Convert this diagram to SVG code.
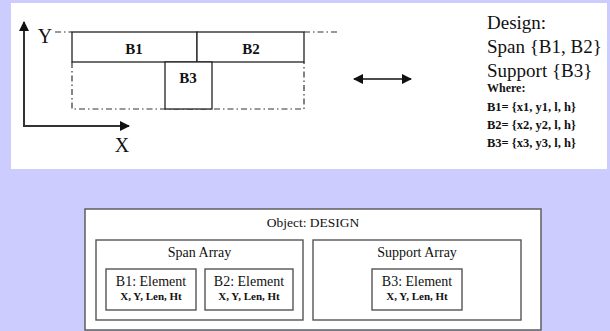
<svg xmlns="http://www.w3.org/2000/svg" width="610" height="331" viewBox="0 0 610 331">
<style>
.serif{font-family:"Liberation Serif","Times New Roman",serif;fill:#111}
.b{font-weight:bold}
.box{fill:#fff;stroke:#222;stroke-width:1.3}
.dd{fill:none;stroke:#333;stroke-width:1.2;stroke-dasharray:6 3 1.5 3}
.ax{stroke:#333;stroke-width:2;fill:none}
.gbox{fill:#fff;stroke:#555;stroke-width:1.4}
</style>
<defs>
<marker id="ah" viewBox="0 0 10 10" refX="9" refY="5" markerWidth="5" markerHeight="5" orient="auto-start-reverse" markerUnits="strokeWidth">
<path d="M0,0 L10,5 L0,10 z" fill="#111"/>
</marker>
<marker id="ah2" viewBox="0 0 10 10" refX="9" refY="5" markerWidth="7" markerHeight="7" orient="auto-start-reverse" markerUnits="strokeWidth">
<path d="M0,0 L10,5 L0,10 z" fill="#111"/>
</marker>
</defs>
<rect width="610" height="331" fill="#CCCCFF"/>
<rect x="11" y="3" width="596" height="166" fill="#fff"/>
<g id="axes">
<line class="ax" x1="24" y1="126" x2="24" y2="22" marker-end="url(#ah)"/>
<line class="ax" x1="23" y1="126" x2="129" y2="126" marker-end="url(#ah)"/>
<text class="serif" x="45" y="43" font-size="20" text-anchor="middle" fill="#333">Y</text>
<text class="serif" x="122" y="152" font-size="20" text-anchor="middle" fill="#333">X</text>
</g>
<g id="outline">
<path class="dd" d="M55,32 H72 M304,32 H337 M72,62 V109 H304 V62"/>
</g>
<g id="B1">
<rect class="box" x="72" y="32" width="125" height="30"/>
<text class="serif b" x="134" y="54" font-size="15" text-anchor="middle">B1</text>
</g>
<g id="B2">
<rect class="box" x="197" y="32" width="107" height="30"/>
<text class="serif b" x="251" y="54" font-size="15" text-anchor="middle">B2</text>
</g>
<g id="B3">
<rect class="box" x="165" y="62" width="47" height="47"/>
<text class="serif b" x="188" y="83" font-size="15" text-anchor="middle">B3</text>
</g>
<g id="connectors">
<line x1="354" y1="79" x2="411" y2="79" stroke="#111" stroke-width="1.5" marker-start="url(#ah2)" marker-end="url(#ah2)"/>
</g>
<g id="design-text" class="serif">
<text x="487" y="29" font-size="19">Design:</text>
<text x="487" y="53" font-size="19">Span {B1, B2}</text>
<text x="487" y="77" font-size="19">Support {B3}</text>
<text class="b" x="487" y="92" font-size="12">Where:</text>
<text class="b" x="487" y="111" font-size="12.5">B1= {x1, y1, l, h}</text>
<text class="b" x="487" y="129" font-size="12.5">B2= {x2, y2, l, h}</text>
<text class="b" x="487" y="147" font-size="12.5">B3= {x3, y3, l, h}</text>
</g>
<g id="object-design">
<rect class="gbox" x="85" y="209" width="456" height="121"/>
<text class="serif" x="313" y="227" font-size="13.5" text-anchor="middle">Object: DESIGN</text>
</g>
<g id="span-array">
<rect class="gbox" x="96" y="240" width="207" height="80"/>
<text class="serif" x="199.5" y="257" font-size="14" text-anchor="middle">Span Array</text>
</g>
<g id="support-array">
<rect class="gbox" x="313" y="240" width="208" height="80"/>
<text class="serif" x="417" y="257" font-size="14" text-anchor="middle">Support Array</text>
</g>
<g id="b1-element">
<rect class="gbox" x="106" y="269" width="90" height="41"/>
<text class="serif" x="151" y="286" font-size="14" text-anchor="middle">B1: Element</text>
<text class="serif b" x="151" y="300" font-size="11" text-anchor="middle">X, Y, Len, Ht</text>
</g>
<g id="b2-element">
<rect class="gbox" x="205" y="269" width="88" height="41"/>
<text class="serif" x="249" y="286" font-size="14" text-anchor="middle">B2: Element</text>
<text class="serif b" x="249" y="300" font-size="11" text-anchor="middle">X, Y, Len, Ht</text>
</g>
<g id="b3-element">
<rect class="gbox" x="372" y="269" width="90" height="41"/>
<text class="serif" x="417" y="286" font-size="14" text-anchor="middle">B3: Element</text>
<text class="serif b" x="417" y="300" font-size="11" text-anchor="middle">X, Y, Len, Ht</text>
</g>
</svg>
